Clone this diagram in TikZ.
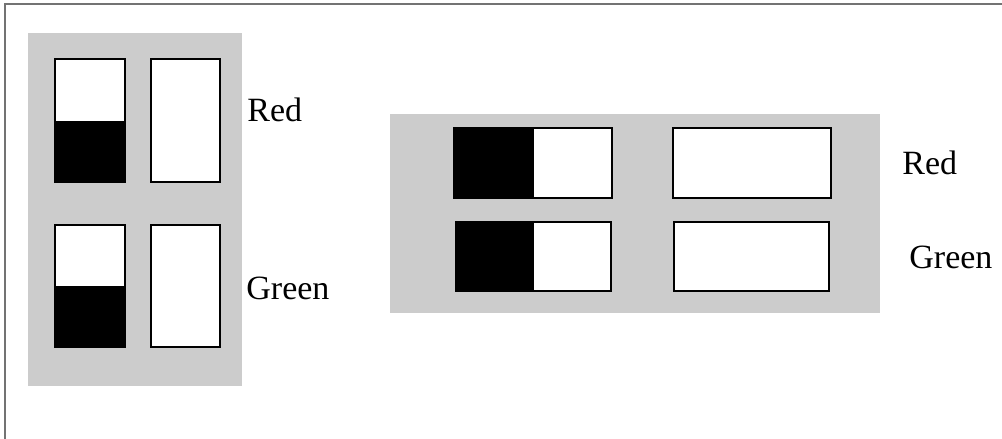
\documentclass[tikz,border=0pt]{standalone}
\usepackage{fontspec}
\setmainfont{Liberation Serif}
\tikzset{lamp frame/.style={draw=black!55, line width=0.6pt}}
\tikzset{lamp panel/.style={fill=black!20}}
\tikzset{lamp box/.style={draw=black, fill=white, line width=0.75pt}}
\tikzset{lamp lit/.style={fill=black}}
\tikzset{lamp label/.style={font=\fontsize{17}{20}\selectfont, inner sep=0pt, anchor=base west}}

\begin{document}
\begin{tikzpicture}[x=0.5pt,y=-0.5pt]
		\useasboundingbox (0,0) rectangle (1002,439);
		\draw[lamp frame] (5,439) -- (5,4) -- (1002,4);

		% vertical panel
		\fill[lamp panel] (28,33) rectangle (242,386);
		\draw[lamp box] (55,59) rectangle (125,182);
		\fill[lamp lit] (55,121) rectangle (125,182);
		\draw[lamp box] (151,59) rectangle (220,182);
		\draw[lamp box] (55,225) rectangle (125,347);
		\fill[lamp lit] (55,286) rectangle (125,347);
		\draw[lamp box] (151,225) rectangle (220,347);
		\node[lamp label] (redv) at (247,121) {Red};
		\node[lamp label] (greenv) at (246,299) {Green};

		% horizontal panel
		\fill[lamp panel] (390,114) rectangle (880,313);
		\draw[lamp box] (454,128) rectangle (612,198);
		\fill[lamp lit] (454,128) rectangle (534,198);
		\draw[lamp box] (673,128) rectangle (831,198);
		\draw[lamp box] (456,222) rectangle (611,291);
		\fill[lamp lit] (456,222) rectangle (534,291);
		\draw[lamp box] (674,222) rectangle (829,291);
		\node[lamp label] (redh) at (902,174) {Red};
		\node[lamp label] (greenh) at (909,268) {Green};
	\end{tikzpicture}
\end{document}
